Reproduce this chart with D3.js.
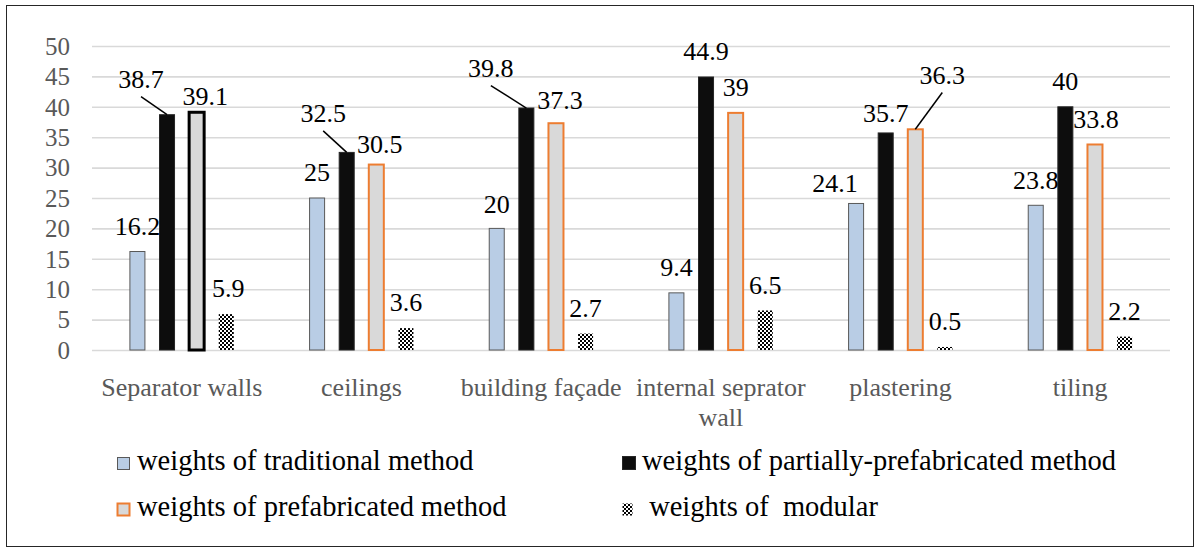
<!DOCTYPE html>
<html>
<head>
<meta charset="utf-8">
<script src="https://cdn.jsdelivr.net/npm/d3@7/dist/d3.min.js"></script>
<style>
  html, body { margin: 0; padding: 0; background: #fff; }
  svg { display: block; }
  text { font-family: "Liberation Serif", "DejaVu Serif", serif; }
</style>
</head>
<body>
<svg id="chart" width="1201" height="553"></svg>
<script>
// ---------- data ----------
const categories = ["Separator walls", "ceilings", "building façade", "internal seprator wall", "plastering", "tiling"];
const seriesNames = ["weights of traditional method", "weights of partially-prefabricated method", "weights of prefabricated method", " weights of  modular"];
const traditional = [16.2, 25, 20, 9.4, 24.1, 23.8];
const partial     = [38.7, 32.5, 39.8, 44.9, 35.7, 40];
const prefab      = [39.1, 30.5, 37.3, 39, 36.3, 33.8];
const modular     = [5.9, 3.6, 2.7, 6.5, 0.5, 2.2];
const yTicks      = [0, 5, 10, 15, 20, 25, 30, 35, 40, 45, 50];

// label nudges (dx, dy in px, relative to default label spot) and leader-line flags
const nudgeTraditional = [[0,0],[0,0],[0,1],[0,0],[-21,5],[0,0]];
const nudgePartial     = [[-26,-10],[-23.5,-13.5],[-35.5,-14.5],[0,0],[0,5.5],[0,0]];
const nudgePrefab      = [[8.5,9.7],[3.5,5],[4,2.5],[0,0],[27,-28.8],[1,0]];
const nudgeModular     = [[2,0],[0,0],[0,0],[0,0],[0,0],[0,0]];
const leaderPartial    = [true, true, true, false, false, false];
const leaderPrefab     = [false, false, false, false, true, false];

const seriesValues = [traditional, partial, prefab, modular];
const seriesNudges = [nudgeTraditional, nudgePartial, nudgePrefab, nudgeModular];
const noLeaders = [false, false, false, false, false, false];
const seriesLeaders = [noLeaders, leaderPartial, leaderPrefab, noLeaders];

// ---------- styles ----------
const styles = [
  { fill: "#b9cde5", stroke: "#595959", sw: 1 },
  { fill: "#0d0d0d", stroke: "#262626", sw: 1 },
  { fill: "#d9d9d9", stroke: "#ed7d31", sw: 2 },
  { fill: "url(#checker)", stroke: "none", sw: 0 }
];

const svg = d3.select("#chart");

// pattern
const defs = svg.append("defs");
const pat = defs.append("pattern").attr("id", "checker")
  .attr("width", 4).attr("height", 4).attr("patternUnits", "userSpaceOnUse");
pat.append("rect").attr("width", 4).attr("height", 4).attr("fill", "#fff");
pat.append("rect").attr("width", 2).attr("height", 2).attr("fill", "#000");
pat.append("rect").attr("x", 2).attr("y", 2).attr("width", 2).attr("height", 2).attr("fill", "#000");

// outer border
svg.append("rect").attr("x", 6.5).attr("y", 5.5).attr("width", 1187).attr("height", 541)
  .attr("fill", "#fff").attr("stroke", "#262626").attr("stroke-width", 1);

const plotLeft = 92, plotRight = 1170, plotTop = 46, plotBottom = 350;

const x0 = d3.scaleBand().domain(categories).range([plotLeft, plotRight]).padding(0);
const x1 = d3.scaleBand().domain(d3.range(4)).range([0, x0.bandwidth()])
  .paddingInner(0.493).paddingOuter(1.28);
const y = d3.scaleLinear().domain([0, 50]).range([plotBottom, plotTop]);

// grid + y axis
const yAxis = d3.axisLeft(y).tickValues(yTicks).tickSizeInner(-(plotRight - plotLeft)).tickSizeOuter(0).tickPadding(22);
const gy = svg.append("g").attr("transform", `translate(${plotLeft},0)`).call(yAxis);
gy.select(".domain").remove();
gy.selectAll(".tick line").attr("stroke", "#d9d9d9").attr("stroke-width", 1.6);
gy.selectAll(".tick text").attr("fill", "#595959").attr("font-size", 25)
  .style("font-family", '"Liberation Serif", serif').attr("dy", "0.33em");

// bars
const flat = [];
seriesValues.forEach((vals, s) => vals.forEach((v, i) => flat.push({ s, i, v })));

svg.append("g").selectAll("rect").data(flat).join("rect")
  .attr("x", d => x0(categories[d.i]) + x1(d.s))
  .attr("y", d => y(d.v))
  .attr("width", x1.bandwidth())
  .attr("height", d => y(0) - y(d.v))
  .attr("fill", d => styles[d.s].fill)
  .attr("stroke", d => (d.s === 2 && d.i === 0) ? "#000" : styles[d.s].stroke)
  .attr("stroke-width", d => (d.s === 2 && d.i === 0) ? 3 : styles[d.s].sw);

// value labels + leader lines
const labelG = svg.append("g");
flat.forEach(d => {
  const cx = x0(categories[d.i]) + x1(d.s) + x1.bandwidth() / 2;
  const barTop = y(d.v);
  const nd = seriesNudges[d.s][d.i];
  const lx = cx + nd[0];
  const ly = barTop - 25.5 + nd[1];
  if (seriesLeaders[d.s][d.i]) {
    labelG.append("line")
      .attr("x1", lx).attr("y1", ly + 17.5)
      .attr("x2", cx).attr("y2", barTop)
      .attr("stroke", "#000").attr("stroke-width", 1.5);
  }
  labelG.append("text")
    .attr("x", lx).attr("y", ly).attr("dy", "0.34em")
    .attr("text-anchor", "middle").attr("font-size", 26).attr("fill", "#000")
    .text(String(d.v));
});

// category labels (wrapped to band width)
const catG = svg.append("g");
categories.forEach(c => {
  const cx = x0(c) + x0.bandwidth() / 2;
  const t = catG.append("text").attr("x", cx).attr("y", 395.5)
    .attr("text-anchor", "middle").attr("font-size", 26).attr("fill", "#595959");
  const words = c.split(" ");
  let line = [];
  let tspan = t.append("tspan").attr("x", cx).attr("dy", 0);
  words.forEach(w => {
    line.push(w);
    tspan.text(line.join(" "));
    if (tspan.node().getComputedTextLength() > x0.bandwidth() - 4 && line.length > 1) {
      line.pop();
      tspan.text(line.join(" "));
      line = [w];
      tspan = t.append("tspan").attr("x", cx).attr("dy", 30.5).text(w);
    }
  });
});

// legend
const legendPos = [[117, 470], [622, 470], [117, 516], [622, 516]];
const keySize = [[13, 13], [14, 14], [13, 13], [11, 13]];
const legG = svg.append("g");
seriesNames.forEach((name, s) => {
  const [lx, base] = legendPos[s];
  const [kw, kh] = keySize[s];
  legG.append("rect").attr("x", lx + 0.5).attr("y", base - kh + 0.5)
    .attr("width", kw - 1).attr("height", kh - 1)
    .attr("fill", styles[s].fill)
    .attr("stroke", styles[s].stroke)
    .attr("stroke-width", s === 2 ? 2 : (s === 3 ? 0 : 1));
  legG.append("text").attr("x", lx + 20).attr("y", base)
    .attr("font-size", 28.5).attr("fill", "#000")
    .style("white-space", "pre")
    .text(name);
});
</script>
</body>
</html>
